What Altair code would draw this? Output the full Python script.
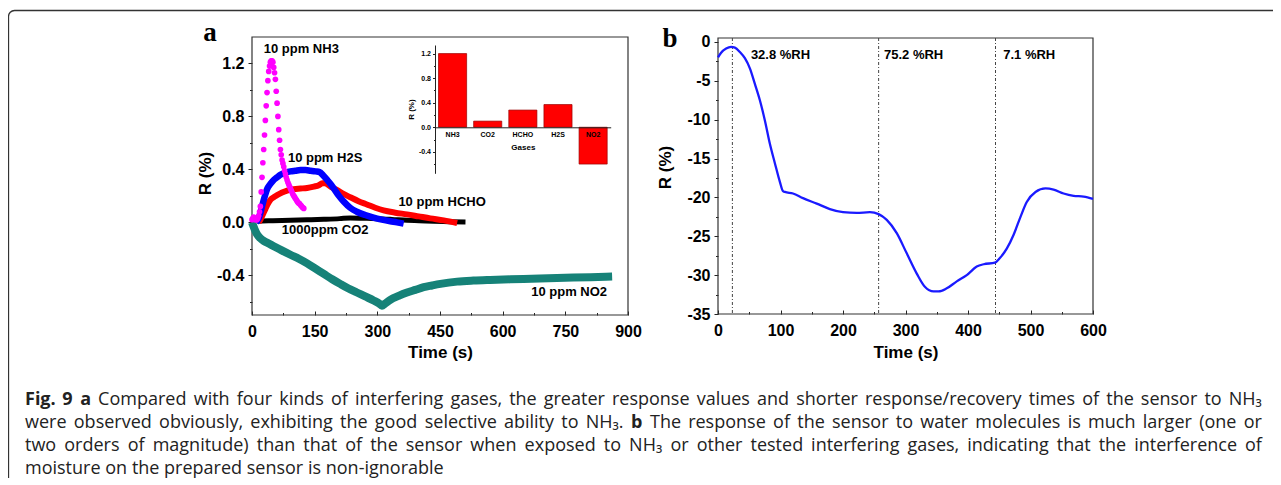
import altair as alt
import pandas as pd

# ---------------- data: panel a ----------------
nh3_t = [0, 2, 4, 6, 8, 10, 12, 14, 16, 18, 20, 22, 24, 26, 28, 30, 32, 34, 36, 38, 40,
         42, 44, 46, 48, 50, 52, 54, 56, 58, 60, 62, 64, 66, 68, 70, 72, 74, 76, 78, 80,
         82, 84, 86, 88, 90, 92, 94, 96, 98, 100, 102, 104, 106, 108, 110, 112, 114, 116,
         118, 120, 122, 124]
nh3_r = [0.02, 0.03, 0.04, 0.03, 0.02, 0.02, 0.02, 0.03, 0.05, 0.08, 0.12, 0.23, 0.34, 0.45,
         0.55, 0.66, 0.77, 0.88, 0.98, 1.07, 1.14, 1.18, 1.21, 1.22, 1.22, 1.21, 1.17, 1.13,
         1.08, 0.99, 0.90, 0.80, 0.70, 0.62, 0.55, 0.51, 0.47, 0.445, 0.42, 0.39, 0.365, 0.34,
         0.32, 0.30, 0.285, 0.27, 0.255, 0.24, 0.225, 0.21, 0.20, 0.19, 0.18, 0.17, 0.16, 0.15,
         0.145, 0.14, 0.13, 0.125, 0.115, 0.11, 0.105]

h2s_t = [10, 16, 20, 24, 30, 36, 44, 52, 60, 68, 80, 92, 104, 116, 128, 140, 152, 162, 170,
         180, 188, 196, 208, 220, 235, 251, 271, 291, 311, 331, 347, 363]
h2s_r = [0.0, 0.03, 0.07, 0.12, 0.19, 0.25, 0.29, 0.32, 0.34, 0.36, 0.375, 0.385, 0.39, 0.395,
         0.395, 0.39, 0.385, 0.38, 0.355, 0.32, 0.29, 0.255, 0.2, 0.155, 0.11, 0.08, 0.055,
         0.035, 0.02, 0.008, 0.0, -0.01]

hcho_t = [16, 20, 26, 32, 38, 44, 52, 60, 72, 84, 100, 116, 132, 148, 160, 168, 174, 188, 203,
          219, 235, 255, 275, 295, 315, 343, 371, 399, 427, 459, 491]
hcho_r = [0.0, 0.02, 0.06, 0.10, 0.14, 0.17, 0.19, 0.205, 0.225, 0.24, 0.25, 0.255, 0.26, 0.27,
          0.28, 0.295, 0.295, 0.27, 0.245, 0.215, 0.19, 0.16, 0.135, 0.11, 0.09, 0.073, 0.06,
          0.045, 0.03, 0.015, -0.005]

co2_t = [10, 12, 50, 92, 132, 172, 210, 235, 270, 299, 335, 371, 400, 435, 470, 511]
co2_r = [0.005, 0.008, 0.012, 0.015, 0.019, 0.023, 0.028, 0.033, 0.031, 0.028, 0.022, 0.015,
         0.012, 0.008, 0.005, 0.003]

no2_t = [0, 6, 12, 20, 28, 40, 52, 70, 92, 112, 132, 152, 172, 192, 211, 231, 251, 271, 291,
         305, 311, 318, 331, 351, 371, 391, 411, 431, 451, 491, 530, 570, 650, 730, 810, 862]
no2_r = [0.0, -0.05, -0.09, -0.12, -0.14, -0.16, -0.18, -0.21, -0.245, -0.275, -0.31, -0.35,
         -0.39, -0.43, -0.465, -0.50, -0.53, -0.56, -0.59, -0.615, -0.63, -0.615, -0.585,
         -0.555, -0.53, -0.51, -0.49, -0.477, -0.465, -0.448, -0.44, -0.435, -0.428, -0.42,
         -0.415, -0.41]

a_labels = ["10 ppm NH3", "10 ppm H2S", "10 ppm HCHO", "1000ppm CO2", "10 ppm NO2"]
a_label_t = [118, 175, 455, 175, 759]
a_label_r = [1.306, 0.486, 0.154, -0.061, -0.529]

a_x_ticks = [0, 150, 300, 450, 600, 750, 900]
a_x_minor = [75, 225, 375, 525, 675, 825]
a_y_ticks = [-0.4, 0.0, 0.4, 0.8, 1.2]
a_y_minor = [-0.6, -0.2, 0.2, 0.6, 1.0]

# inset
gases = ["NH3", "CO2", "HCHO", "H2S", "NO2"]
gas_r = [1.2, 0.1, 0.28, 0.37, -0.6]
inset_y_ticks = [-0.4, 0.0, 0.4, 0.8, 1.2]
inset_y_minor = [-0.6, -0.2, 0.2, 0.6, 1.0]

# ---------------- data: panel b ----------------
b_t = [0, 5, 13, 21, 27, 35, 43, 51, 59, 67, 75, 83, 91, 99, 104, 107, 120, 136, 158, 179,
       200, 222, 243, 257, 270, 286, 302, 318, 331, 345, 353, 366, 382, 398, 414, 425, 443,
       451, 462, 473, 484, 494, 508, 524, 537, 553, 569, 585, 600]
b_r = [-2.0, -1.4, -0.86, -0.64, -0.73, -1.3, -2.1, -3.4, -5.4, -7.5, -10.1, -13.1, -15.6,
       -18.0, -19.2, -19.3, -19.5, -20.1, -20.8, -21.5, -21.9, -22.0, -21.9, -22.15, -22.9,
       -24.6, -27.2, -29.8, -31.5, -32.1, -32.1, -31.7, -30.8, -30.0, -28.9, -28.6, -28.4,
       -27.8, -26.6, -24.8, -22.5, -20.6, -19.3, -18.85, -19.0, -19.5, -19.8, -19.9, -20.2]
rh_t = [23, 257, 444]
rh_labels = ["32.8 %RH", "75.2 %RH", "7.1 %RH"]
rh_label_t = [100, 313, 498]
rh_label_r = [-1.7, -1.7, -1.7]

b_x_ticks = [0, 100, 200, 300, 400, 500, 600]
b_x_minor = [50, 150, 250, 350, 450, 550]
b_y_ticks = [0, -5, -10, -15, -20, -25, -30, -35]
b_y_minor = [-2.5, -7.5, -12.5, -17.5, -22.5, -27.5, -32.5]

# caption lines
cap_line1 = [("Fig. 9 a", True),
             ("Compared with four kinds of interfering gases, the greater response values and "
              "shorter response/recovery times of the sensor to NH\u2083", False)]
cap_line2 = [("were observed obviously, exhibiting the good selective ability to NH\u2083.", False),
             ("b", True),
             ("The response of the sensor to water molecules is much larger (one or", False)]
cap_line3 = [("two orders of magnitude) than that of the sensor when exposed to NH\u2083 or other "
              "tested interfering gases, indicating that the interference of", False)]
cap_line4 = [("moisture on the prepared sensor is non-ignorable", False)]

# ---------------- layout (view pixel coords) ----------------
W, H = 1265, 470
A_X = [244, 620]; A_Y = [307, 29]
A_DX = [0, 900]; A_DY = [-0.7, 1.4]
I_X = [427, 602.7]; I_Y = [165.3, 37]
I_DY = [-0.75, 1.34]
I_ZERO = 119.3
B_X = [710, 1085]; B_Y = [306, 30]
B_DX = [0, 600]; B_DY = [-35, 0.5]

FONT = "Liberation Sans"
EXPR_1F = "(datum.value < 0 ? '-' : '') + format(abs(datum.value), '.1f')"
EXPR_D = "(datum.value < 0 ? '-' : '') + format(abs(datum.value), 'd')"


def qs(dom, rng):
    return alt.Scale(domain=dom, range=rng, nice=False, zero=False)


def ax(**kw):
    base = dict(grid=False, labelFont=FONT, labelFontWeight="bold", labelFontSize=16,
                labelColor="#000", tickColor="#222", domainColor="#222", titleFont=FONT,
                titleFontWeight="bold", titleFontSize=17, titleColor="#000",
                labelFlush=False, labelOverlap=False, title=None, domain=False)
    base.update(kw)
    return alt.Axis(**base)


layers = []

# outer rounded border
border = alt.Chart(pd.DataFrame({"k": [0]})).mark_rect(
    fillOpacity=0, stroke="#333", strokeWidth=1.3, cornerRadius=6).encode(
    x=alt.value(0.5), x2=alt.value(1400), y=alt.value(2.5), y2=alt.value(700))
layers.append(border)


def axis_layer(frame, xs, ys, xaxis, yaxis):
    return alt.Chart(frame).mark_point(opacity=0).encode(
        x=alt.X("x0:Q", scale=xs, axis=xaxis),
        y=alt.Y("y0:Q", scale=ys, axis=yaxis))


# ---------------- panel a ----------------
frame_a = pd.DataFrame({"x0": [A_DX[0]], "x1": [A_DX[1]], "y0": [A_DY[0]], "y1": [A_DY[1]]})
sxa = lambda: qs(A_DX, A_X)
sya = lambda: qs(A_DY, A_Y)

layers.append(alt.Chart(frame_a).mark_rect(fillOpacity=0, stroke="#333", strokeWidth=1.2).encode(
    x=alt.X("x0:Q", scale=sxa(), axis=None), x2="x1:Q",
    y=alt.Y("y0:Q", scale=sya(), axis=None), y2="y1:Q"))

layers.append(axis_layer(frame_a, sxa(), sya(),
                         ax(orient="bottom", offset=A_Y[0] - H, values=a_x_ticks, ticks=False,
                            labelPadding=8, title="Time (s)", titleY=37, titleBaseline="middle"),
                         ax(orient="left", offset=-A_X[0], values=a_y_ticks, labelExpr=EXPR_1F,
                            tickSize=4, labelPadding=4, title="R (%)", titleX=-47, titleY=165,
                            titleBaseline="middle")))
layers.append(axis_layer(frame_a, sxa(), sya(),
                         ax(orient="top", offset=-A_Y[0], values=a_x_ticks, labels=False, tickSize=4),
                         ax(orient="left", offset=-A_X[0], values=a_y_minor, labels=False, tickSize=2.5)))
layers.append(axis_layer(frame_a, sxa(), sya(),
                         ax(orient="top", offset=-A_Y[0], values=a_x_minor, labels=False, tickSize=2.5),
                         None))


def curve(t, r, color, width):
    df = pd.DataFrame({"t": t, "r": r})
    return alt.Chart(df).mark_line(color=color, strokeWidth=width, interpolate="monotone").encode(
        x=alt.X("t:Q", scale=sxa(), axis=None),
        y=alt.Y("r:Q", scale=sya(), axis=None))


layers.append(curve(no2_t, no2_r, "#168278", 8))
layers.append(curve(co2_t, co2_r, "#000000", 5))
layers.append(curve(hcho_t, hcho_r, "#ff0000", 6))
layers.append(curve(h2s_t, h2s_r, "#0000ff", 6.5))
layers.append(alt.Chart(pd.DataFrame({"t": nh3_t, "r": nh3_r})).mark_circle(
    color="#ff00ff", size=32, opacity=1).encode(
    x=alt.X("t:Q", scale=sxa(), axis=None),
    y=alt.Y("r:Q", scale=sya(), axis=None)))

layers.append(alt.Chart(pd.DataFrame({"t": a_label_t, "r": a_label_r, "s": a_labels})).mark_text(
    font=FONT, fontWeight="bold", fontSize=13, color="#000", align="center", baseline="middle").encode(
    x=alt.X("t:Q", scale=sxa(), axis=None),
    y=alt.Y("r:Q", scale=sya(), axis=None), text="s:N"))

# ---------------- inset ----------------
inset_df = pd.DataFrame({"g": gases, "r": gas_r})
sxi = lambda: alt.Scale(domain=gases, range=I_X, paddingInner=0.2, paddingOuter=0.1)
syi = lambda: qs(I_DY, I_Y)
small = dict(labelFontSize=7, titleFontSize=8)
layers.append(alt.Chart(inset_df).mark_bar(color="#ff0000", stroke="#9a0000", strokeWidth=0.7).encode(
    x=alt.X("g:N", scale=sxi(), sort=gases,
            axis=ax(orient="bottom", offset=I_ZERO - H, ticks=False, domain=True,
                    labelPadding=3, labelAngle=0, title="Gases", titleY=20.5,
                    titleBaseline="middle", zindex=1, domainWidth=1, **small)),
    y=alt.Y("r:Q", scale=syi(),
            axis=ax(orient="left", offset=-I_X[0], values=inset_y_ticks, labelExpr=EXPR_1F,
                    tickSize=2.5, labelPadding=2, domain=True, title="R (%)", titleX=-24,
                    titleBaseline="middle", **small))))
layers.append(alt.Chart(inset_df).mark_point(opacity=0).encode(
    x=alt.X("g:N", scale=sxi(), sort=gases, axis=None),
    y=alt.Y("r:Q", scale=syi(),
            axis=ax(orient="left", offset=-I_X[0], values=inset_y_minor, labels=False,
                    tickSize=1.5))))

# ---------------- panel b ----------------
frame_b = pd.DataFrame({"x0": [B_DX[0]], "x1": [B_DX[1]], "y0": [B_DY[0]], "y1": [B_DY[1]]})
sxb = lambda: qs(B_DX, B_X)
syb = lambda: qs(B_DY, B_Y)

layers.append(alt.Chart(frame_b).mark_rect(fillOpacity=0, stroke="#333", strokeWidth=1.2).encode(
    x=alt.X("x0:Q", scale=sxb(), axis=None), x2="x1:Q",
    y=alt.Y("y0:Q", scale=syb(), axis=None), y2="y1:Q"))
layers.append(axis_layer(frame_b, sxb(), syb(),
                         ax(orient="bottom", offset=B_Y[0] - H, values=b_x_ticks, ticks=False,
                            labelPadding=8, title="Time (s)", titleY=38, titleBaseline="middle"),
                         ax(orient="left", offset=-B_X[0], values=b_y_ticks, labelExpr=EXPR_D,
                            tickSize=4, labelPadding=4, title="R (%)", titleX=-53, titleY=159,
                            titleBaseline="middle")))
layers.append(axis_layer(frame_b, sxb(), syb(),
                         ax(orient="top", offset=-B_Y[0], values=b_x_ticks, labels=False, tickSize=4),
                         ax(orient="left", offset=-B_X[0], values=b_y_minor, labels=False, tickSize=2.5)))
layers.append(axis_layer(frame_b, sxb(), syb(),
                         ax(orient="top", offset=-B_Y[0], values=b_x_minor, labels=False, tickSize=2.5),
                         None))

rh_df = pd.DataFrame({"t": rh_t, "top": [B_DY[1]] * 3, "bot": [B_DY[0]] * 3})
layers.append(alt.Chart(rh_df).mark_rule(color="#444", strokeWidth=1, strokeDash=[3, 2, 1, 2]).encode(
    x=alt.X("t:Q", scale=sxb(), axis=None),
    y=alt.Y("top:Q", scale=syb(), axis=None), y2="bot:Q"))
layers.append(alt.Chart(pd.DataFrame({"t": b_t, "r": b_r})).mark_line(
    color="#1a1aff", strokeWidth=2.3, interpolate="monotone").encode(
    x=alt.X("t:Q", scale=sxb(), axis=None),
    y=alt.Y("r:Q", scale=syb(), axis=None)))
layers.append(alt.Chart(pd.DataFrame({"t": rh_label_t, "r": rh_label_r, "s": rh_labels})).mark_text(
    font=FONT, fontWeight="bold", fontSize=13, color="#000", align="center", baseline="middle").encode(
    x=alt.X("t:Q", scale=sxb(), axis=None),
    y=alt.Y("r:Q", scale=syb(), axis=None), text="s:N"))

# panel letters
for letter, px, py in [("a", 202, 33), ("b", 662, 39)]:
    layers.append(alt.Chart(pd.DataFrame({"s": [letter]})).mark_text(
        font="Liberation Serif", fontWeight="bold", fontSize=27, color="#000",
        align="center", baseline="alphabetic").encode(
        text="s:N", x=alt.value(px), y=alt.value(py)))

# ---------------- caption: justified word layout ----------------
CAP = "Open Sans"
CS = 18
LEFT, RIGHT = 17, 1254
# approximate Open Sans advance widths (units per 2048 em), used only for text layout
ADV = {" ": 532, "a": 1139, "b": 1255, "c": 975, "d": 1255, "e": 1149, "f": 694, "g": 1122,
       "h": 1257, "i": 518, "j": 518, "k": 1075, "l": 518, "m": 1905, "n": 1257, "o": 1237,
       "p": 1255, "q": 1255, "r": 836, "s": 977, "t": 723, "u": 1257, "v": 1026, "w": 1593,
       "x": 1073, "y": 1028, "z": 977, ",": 502, ".": 545, "/": 752, "(": 608, ")": 608,
       "-": 659, "9": 1171, "3": 1171, "\u2083": 780, "N": 1520, "H": 1485, "C": 1298,
       "F": 1016, "T": 1104}


def word_width(w, bold):
    return sum(ADV.get(ch, 1150) for ch in w) / 2048 * CS * (1.07 if bold else 1.0)


def layout_line(parts, y, justify):
    words = []
    for text, bold in parts:
        for w in text.split(" "):
            if w:
                words.append((w, bold))
    widths = [word_width(w, b) for w, b in words]
    if justify and len(words) > 1:
        gap = (RIGHT - LEFT - sum(widths)) / (len(words) - 1)
    else:
        gap = ADV[" "] / 2048 * CS
    out, x = [], LEFT
    for (w, b), wd in zip(words, widths):
        out.append({"s": w, "px": x, "py": y, "bold": b})
        x += wd + gap
    return out


cap_rows = (layout_line(cap_line1, 397, True) + layout_line(cap_line2, 420, True)
            + layout_line(cap_line3, 443, True) + layout_line(cap_line4, 466, False))
cap_df = pd.DataFrame(cap_rows)
for is_bold in (False, True):
    sub = cap_df[cap_df["bold"] == is_bold]
    layers.append(alt.Chart(sub).mark_text(
        font=CAP, fontWeight="bold" if is_bold else "normal", fontSize=CS, color="#222",
        align="left", baseline="alphabetic").encode(
        text="s:N",
        x=alt.X("px:Q", scale=None, axis=None),
        y=alt.Y("py:Q", scale=None, axis=None)))

chart = alt.layer(*layers).resolve_scale(x="independent", y="independent").properties(
    width=W, height=H, padding=0, autosize=alt.AutoSizeParams(type="none")
).configure_view(stroke=None)

chart.save("out.html", embed_options={"renderer": "svg", "actions": False})
